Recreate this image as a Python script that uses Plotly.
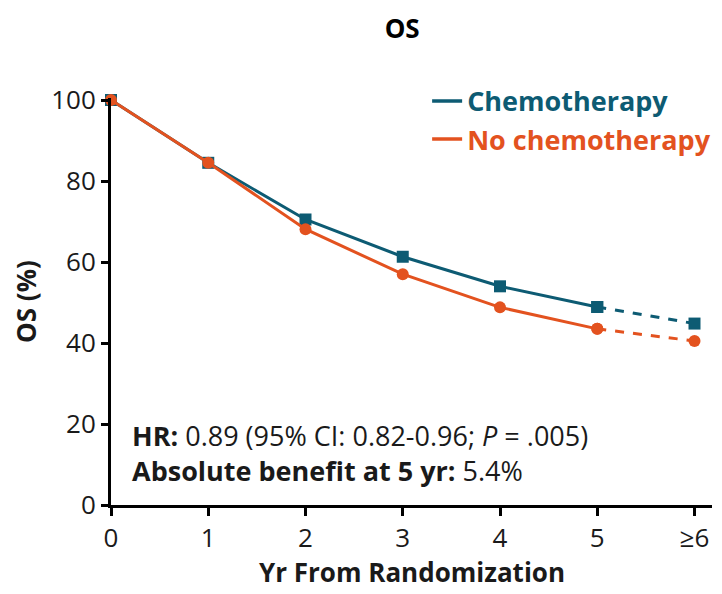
import plotly.graph_objects as go

# Overall survival by year from randomization
years = [0, 1, 2, 3, 4, 5, 6]
year_labels = ["0", "1", "2", "3", "4", "5", "≥6"]
os_chemo = [100, 84.5, 70.5, 61.3, 54.0, 48.9, 44.8]
os_no_chemo = [100, 84.5, 68.1, 57.0, 48.8, 43.5, 40.5]

TEAL = "#0d5b73"
ORANGE = "#e3521f"
FONT = "Open Sans"

fig = go.Figure()

series = [
    ("Chemotherapy", os_chemo, TEAL, "square"),
    ("No chemotherapy", os_no_chemo, ORANGE, "circle"),
]

for name, vals, color, symbol in series:
    # solid segment: years 0-5
    fig.add_trace(go.Scatter(
        x=years[:6], y=vals[:6], mode="lines+markers",
        line=dict(color=color, width=3),
        marker=dict(symbol=symbol, size=12, color=color),
        showlegend=False, cliponaxis=False,
    ))
    # dashed extension to the >=6 point
    fig.add_trace(go.Scatter(
        x=years[5:], y=vals[5:], mode="lines+markers",
        line=dict(color=color, width=3, dash="dash"),
        marker=dict(symbol=symbol, size=12, color=color),
        showlegend=False, cliponaxis=False,
    ))

# legend entries (line only)
for name, vals, color, symbol in series:
    fig.add_trace(go.Scatter(
        x=[None], y=[None], mode="lines",
        line=dict(color=color, width=3.5),
        name=f"<span style='color:{color}'><b>{name}</b></span>",
    ))

fig.update_layout(
    width=722, height=594,
    margin=dict(l=111, r=10, t=98, b=89, autoexpand=False),
    paper_bgcolor="white", plot_bgcolor="white",
    font=dict(family=FONT, size=26, color="#1a1a1a"),
    title=dict(text="<b>OS</b>", x=0.557, xanchor="center", y=0.952, yanchor="middle",
               font=dict(size=26, color="black")),
    legend=dict(x=0.526, y=1.052, xanchor="left", yanchor="top",
                font=dict(size=27), itemwidth=30, tracegroupgap=0,
                bgcolor="rgba(0,0,0,0)"),
    xaxis=dict(
        range=[0, 6.18], tickmode="array", tickvals=years, ticktext=year_labels,
        showline=True, linecolor="black", linewidth=3,
        ticks="outside", ticklen=8, tickwidth=3, tickcolor="black",
        showgrid=False, zeroline=False, automargin=False,
        tickfont=dict(size=26),
    ),
    yaxis=dict(
        range=[0, 100.5], tickvals=[0, 20, 40, 60, 80, 100],
        showline=True, linecolor="black", linewidth=3,
        ticks="outside", ticklen=7, tickwidth=3, tickcolor="black",
        showgrid=False, zeroline=False, automargin=False,
        tickfont=dict(size=26),
        title=dict(text="<b>OS (%)</b>", font=dict(size=26), standoff=8),
    ),
)

# x-axis title
fig.add_annotation(
    xref="paper", yref="paper", x=0.5, y=-0.214, xanchor="center", yanchor="bottom",
    text="<b>Yr From Randomization</b>", showarrow=False,
    font=dict(size=26, color="#1a1a1a"),
)

# hazard ratio and absolute benefit, two lines in one text block
fig.add_annotation(
    xref="paper", yref="paper", x=0.032, y=0.127, xanchor="left", yanchor="middle",
    align="left",
    text=("<b>HR:</b> 0.89 (95% CI: 0.82-0.96; <i>P</i> = .005)<br>"
          "<b>Absolute benefit at 5 yr:</b> 5.4%"),
    showarrow=False, font=dict(size=27, color="#1a1a1a"),
)

fig.write_html("out.html")
